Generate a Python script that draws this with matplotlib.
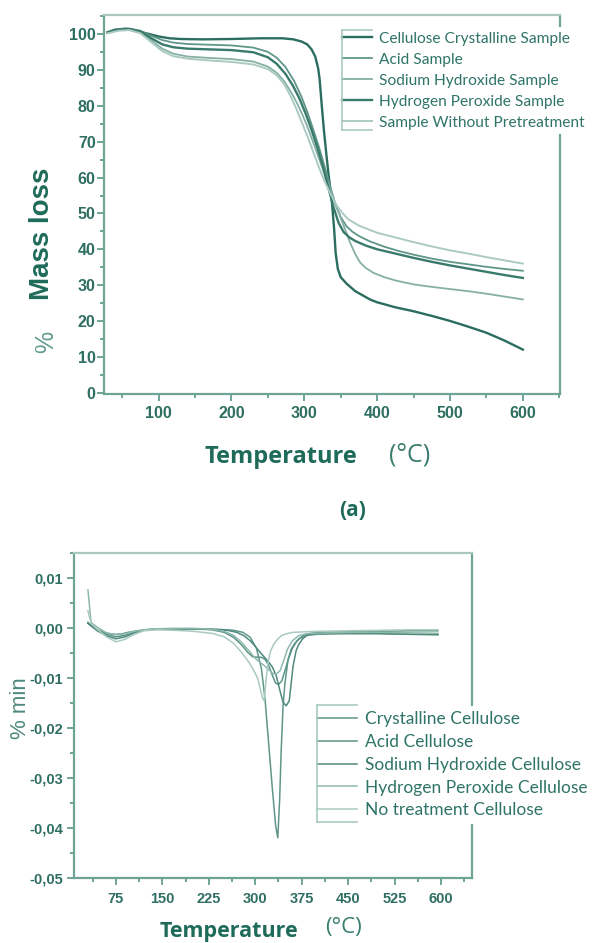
import matplotlib
matplotlib.use("Agg")
import matplotlib.pyplot as plt
from matplotlib.lines import Line2D
from matplotlib.ticker import MultipleLocator, FuncFormatter

W, H = 592, 943

# --- TGA (a): temperature (C) vs mass (%) ---
TGA_LABELS = ["Cellulose Crystalline Sample", "Acid Sample", "Sodium Hydroxide Sample",
              "Hydrogen Peroxide Sample", "Sample Without Pretreatment"]

tga_cryst_t = [30, 40, 55, 70, 85, 100, 115, 130, 160, 200, 240, 270, 285, 296, 304, 310, 315, 319,
               321, 324, 327, 330, 333, 338, 341, 343, 346, 350, 358, 370, 390, 400, 425, 450, 475,
               500, 525, 550, 575, 600]
tga_cryst_m = [100.6, 101.3, 101.6, 100.8, 100.2, 99.4, 98.9, 98.7, 98.6, 98.7, 98.9, 98.9, 98.6, 98.0,
               97.2, 95.8, 93.8, 90.5, 87.5, 80.0, 73.0, 67.0, 61.3, 52.9, 45.5, 39.0, 34.5, 32.2,
               30.4, 28.3, 26.0, 25.2, 23.8, 22.7, 21.4, 20.0, 18.4, 16.7, 14.5, 12.0]

tga_acid_t = [30, 45, 60, 75, 90, 105, 120, 140, 170, 200, 230, 250, 262, 274, 286, 296, 304, 312, 320,
              328, 336, 343, 350, 358, 366, 375, 390, 410, 430, 450, 475, 500, 525, 550, 575, 600]
tga_acid_m = [100.5, 101.4, 101.6, 101.0, 99.6, 98.4, 97.7, 97.3, 97.1, 96.9, 96.3, 95.1, 93.5, 90.9,
              87.0, 82.6, 78.4, 73.6, 68.6, 63.0, 57.2, 52.4, 49.0, 46.4, 44.9, 43.7, 42.2, 40.7, 39.5,
              38.5, 37.4, 36.5, 35.8, 35.1, 34.5, 34.0]

tga_naoh_t = [30, 45, 60, 75, 90, 105, 120, 140, 170, 200, 230, 250, 262, 272, 282, 290, 298, 306, 314,
              322, 330, 338, 346, 354, 362, 370, 377, 385, 395, 410, 425, 450, 475, 500, 525, 550, 575, 600]
tga_naoh_m = [100.4, 101.2, 101.4, 100.5, 98.3, 96.0, 94.6, 93.8, 93.4, 93.1, 92.4, 91.0, 89.3, 87.0,
              83.8, 80.8, 77.3, 73.3, 68.8, 64.3, 59.8, 55.3, 50.8, 46.6, 42.3, 38.6, 36.2, 34.7, 33.4,
              32.2, 31.3, 30.2, 29.5, 28.9, 28.3, 27.6, 26.8, 26.0]

tga_h2o2_t = [30, 45, 60, 75, 90, 105, 120, 140, 170, 200, 230, 250, 262, 274, 284, 293, 302, 310, 318,
              326, 333, 340, 347, 354, 362, 370, 385, 400, 425, 450, 475, 500, 525, 550, 575, 600]
tga_h2o2_m = [100.5, 101.3, 101.5, 100.8, 98.9, 97.2, 96.4, 96.0, 95.8, 95.6, 95.0, 93.6, 91.8, 89.0,
              85.8, 82.2, 77.8, 73.3, 68.3, 62.7, 57.2, 51.8, 47.4, 44.8, 43.3, 42.3, 41.0, 40.0, 38.8,
              37.6, 36.5, 35.5, 34.6, 33.7, 32.8, 32.0]

tga_untr_t = [30, 45, 60, 75, 90, 105, 120, 140, 170, 200, 230, 250, 262, 272, 280, 288, 296, 304, 312,
              320, 328, 336, 344, 352, 360, 375, 400, 425, 450, 475, 500, 525, 550, 575, 600]
tga_untr_m = [100.3, 101.0, 101.2, 100.3, 97.8, 95.3, 93.9, 93.2, 92.7, 92.3, 91.6, 90.3, 88.6, 86.2,
              83.2, 79.7, 75.7, 71.7, 67.3, 62.9, 58.9, 55.4, 52.4, 50.2, 48.4, 46.6, 44.6, 43.3, 42.0,
              40.8, 39.7, 38.8, 37.8, 36.9, 36.0]

# --- DTG (b): temperature (C) vs %/min ---
DTG_LABELS = ["Crystalline Cellulose", "Acid Cellulose", "Sodium Hydroxide Cellulose",
              "Hydrogen Peroxide Cellulose", "No treatment Cellulose"]

dtg_cryst_t = [30, 34, 38, 45, 55, 65, 75, 85, 95, 110, 130, 160, 200, 240, 265, 280, 292, 302, 310,
               316, 322, 328, 333, 336.5, 339.5, 342, 345, 348, 353, 358, 364, 372, 385, 400, 440, 500,
               550, 595]
dtg_cryst_d = [0.0012, 0.0006, 0.0003, -0.0003, -0.0008, -0.0011, -0.0012, -0.0011, -0.0008, -0.0005,
               -0.0002, -0.0001, -0.0001, -0.0002, -0.0004, -0.0008, -0.0018, -0.0040, -0.0080,
               -0.0143, -0.0235, -0.0325, -0.0395, -0.0419, -0.0342, -0.0243, -0.0156, -0.0110,
               -0.0063, -0.0042, -0.0030, -0.0020, -0.0014, -0.0012, -0.0011, -0.0011, -0.0012, -0.0012]

dtg_acid_t = [30, 35, 45, 60, 75, 90, 105, 120, 140, 170, 200, 230, 250, 265, 278, 288, 296, 304, 310,
              316, 322, 328, 333, 338, 343, 348, 354, 360, 368, 378, 390, 410, 450, 500, 550, 595]
dtg_acid_d = [0.0010, 0.0006, -0.0003, -0.0012, -0.0017, -0.0014, -0.0008, -0.0004, -0.0002, -0.0001,
              -0.0001, -0.0003, -0.0008, -0.0018, -0.0033, -0.0048, -0.0057, -0.0058, -0.0058, -0.0062,
              -0.0075, -0.0095, -0.0110, -0.0112, -0.0105, -0.0085, -0.0060, -0.0040, -0.0024, -0.0014,
              -0.0010, -0.0008, -0.0007, -0.0006, -0.0005, -0.0005]

dtg_naoh_t = [30, 35, 45, 60, 75, 90, 105, 120, 140, 170, 200, 230, 255, 270, 282, 292, 300, 308, 315,
              322, 328, 334, 340, 345, 350, 355, 361, 366, 370, 376, 383, 395, 420, 460, 500, 550, 595]
dtg_naoh_d = [0.0010, 0.0005, -0.0005, -0.0015, -0.0021, -0.0017, -0.0009, -0.0004, -0.0002, -0.0001,
              -0.0001, -0.0002, -0.0004, -0.0008, -0.0015, -0.0025, -0.0036, -0.0048, -0.0058, -0.0068,
              -0.0078, -0.0095, -0.0125, -0.0148, -0.0155, -0.0145, -0.0077, -0.0045, -0.0033, -0.0022,
              -0.0014, -0.0010, -0.0009, -0.0009, -0.0010, -0.0012, -0.0013]

dtg_h2o2_t = [30, 35, 45, 60, 75, 90, 105, 120, 140, 170, 200, 230, 250, 265, 278, 290, 300, 308, 315,
              322, 328, 334, 340, 346, 352, 360, 370, 382, 395, 420, 460, 500, 550, 595]
dtg_h2o2_d = [0.0077, 0.0012, 0.0002, -0.0009, -0.0013, -0.0011, -0.0006, -0.0003, -0.0001, 0.0, 0.0,
              -0.0002, -0.0006, -0.0014, -0.0028, -0.0045, -0.0060, -0.0068, -0.0075, -0.0083, -0.0090,
              -0.0092, -0.0085, -0.0065, -0.0042, -0.0025, -0.0015, -0.0011, -0.0010, -0.0009, -0.0008,
              -0.0008, -0.0009, -0.0010]

dtg_untr_t = [30, 35, 45, 60, 75, 90, 105, 120, 140, 170, 200, 230, 250, 265, 278, 290, 298, 304, 309,
              312, 314.5, 317, 321, 325, 330, 336, 342, 350, 362, 380, 400, 450, 500, 550, 595]
dtg_untr_d = [0.0035, 0.0010, -0.0002, -0.0017, -0.0027, -0.0022, -0.0012, -0.0005, -0.0003, -0.0004,
              -0.0006, -0.0010, -0.0017, -0.0030, -0.0048, -0.0068, -0.0085, -0.0100, -0.0125, -0.0140,
              -0.0145, -0.0110, -0.0065, -0.0045, -0.0032, -0.0022, -0.0015, -0.0011, -0.0008, -0.0007,
              -0.0006, -0.0005, -0.0004, -0.0003, -0.0003]

SPINE = "#6ea496"
TICKTXT = "#2f6f62"
TITLE = "#1f6b5a"
LEGTXT = "#2f7467"


def fx(px):
    return px / W


def fy(py):
    return 1 - py / H


def style_axes(ax, tick_size):
    for side in ["left", "bottom", "right", "top"]:
        ax.spines[side].set_color(SPINE)
        ax.spines[side].set_linewidth(1.6)
    ax.spines["top"].set_color("#a9c9c0")
    ax.tick_params(which="both", direction="out", color=SPINE, width=1.4,
                   labelcolor=TICKTXT, labelsize=tick_size, top=False, right=False)
    ax.tick_params(which="major", length=5)
    ax.tick_params(which="minor", length=3)
    for lab in ax.get_xticklabels() + ax.get_yticklabels():
        lab.set_fontweight("bold")
        lab.set_family("Liberation Sans")


def bracket(fig, x0, x1, y0, y1, color):
    fig.add_artist(Line2D([fx(x0), fx(x0)], [fy(y0), fy(y1)], color=color, lw=1.2))
    fig.add_artist(Line2D([fx(x0), fx(x1)], [fy(y0), fy(y0)], color=color, lw=1.2))
    fig.add_artist(Line2D([fx(x0), fx(x1)], [fy(y1), fy(y1)], color=color, lw=1.2))


fig = plt.figure(figsize=(W / 100, H / 100), dpi=100)

# ---------------- panel (a) ----------------
ax1 = fig.add_axes([fx(104), fy(394), fx(560) - fx(104), fy(15) - fy(394)])
tga = [
    (tga_cryst_t, tga_cryst_m, "#2b6d5f", 1.7),
    (tga_acid_t, tga_acid_m, "#5f9688", 1.3),
    (tga_naoh_t, tga_naoh_m, "#86b0a5", 1.3),
    (tga_h2o2_t, tga_h2o2_m, "#3a7a6b", 1.7),
    (tga_untr_t, tga_untr_m, "#abcbc2", 1.4),
]
for (t, m, c, lw), lab in zip(tga, TGA_LABELS):
    ax1.plot(t, m, color=c, lw=lw, label=lab)
ax1.set_xlim(25, 651)
ax1.set_ylim(-0.4, 105.4)
ax1.xaxis.set_major_locator(MultipleLocator(100))
ax1.xaxis.set_minor_locator(MultipleLocator(50))
ax1.yaxis.set_major_locator(MultipleLocator(10))
ax1.yaxis.set_minor_locator(MultipleLocator(5))
ax1.set_xticks([100, 200, 300, 400, 500, 600])
style_axes(ax1, 11.5)
ax1.tick_params(axis="x", pad=4)
ax1.tick_params(axis="y", pad=1)

leg1 = ax1.legend(loc="upper left", bbox_to_anchor=(fx(337), fy(27)), bbox_transform=fig.transFigure,
                  borderaxespad=0, borderpad=0.3, frameon=True, fancybox=False, framealpha=1,
                  edgecolor="none", facecolor="white", handlelength=1.95, handletextpad=0.45,
                  labelspacing=0.45, prop={"family": "Lato", "size": 11.2})
for txt in leg1.get_texts():
    txt.set_color(LEGTXT)
bracket(fig, 342, 372, 30, 130, "#a9c9c0")

fig.text(fx(42), fy(234), "Mass loss", rotation=90, ha="center", va="center", fontsize=20,
         fontweight="bold", color=TITLE, family="Liberation Sans")
fig.text(fx(46), fy(342), "%", rotation=90, ha="center", va="center", fontsize=18,
         color="#5f9a8c", family="Liberation Sans")
fig.text(fx(281), fy(457), "Temperature", ha="center", va="center", fontsize=17,
         fontweight="bold", color=TITLE, family="Open Sans")
fig.text(fx(410), fy(455), "(°C)", ha="center", va="center", fontsize=18,
         color="#3b7d6e", family="Open Sans")
fig.text(fx(353), fy(511), "(a)", ha="center", va="center", fontsize=15,
         fontweight="bold", color=TITLE, family="Open Sans")

# ---------------- panel (b) ----------------
ax2 = fig.add_axes([fx(74), fy(878.3), fx(472) - fx(74), fy(553.3) - fy(878.3)])
dtg = [
    (dtg_cryst_t, dtg_cryst_d, "#5f9689"),
    (dtg_acid_t, dtg_acid_d, "#5b9587"),
    (dtg_naoh_t, dtg_naoh_d, "#4f8a7c"),
    (dtg_h2o2_t, dtg_h2o2_d, "#8fb8ad"),
    (dtg_untr_t, dtg_untr_d, "#aacac1"),
]
for (t, d, c), lab in zip(dtg, DTG_LABELS):
    ax2.plot(t, d, color=c, lw=1.1, label=lab)
ax2.set_xlim(7.5, 650)
ax2.set_ylim(-0.05, 0.015)
ax2.set_xticks([75, 150, 225, 300, 375, 450, 525, 600])
ax2.xaxis.set_minor_locator(MultipleLocator(37.5))
ax2.set_yticks([-0.05, -0.04, -0.03, -0.02, -0.01, 0.0, 0.01])
ax2.yaxis.set_minor_locator(MultipleLocator(0.005))
ax2.yaxis.set_major_formatter(FuncFormatter(lambda v, p: f"{v:.2f}".replace(".", ",").replace("-0,00", "0,00")))
style_axes(ax2, 10.5)
ax2.tick_params(axis="x", pad=5)
ax2.tick_params(axis="y", pad=3)

leg2 = ax2.legend(loc="upper left", bbox_to_anchor=(fx(312), fy(706)), bbox_transform=fig.transFigure,
                  borderaxespad=0, borderpad=0.3, frameon=True, fancybox=False, framealpha=1,
                  edgecolor="none", facecolor="white", handlelength=2.3, handletextpad=0.44,
                  labelspacing=0.39, prop={"family": "Lato", "size": 12.5})
for txt in leg2.get_texts():
    txt.set_color(LEGTXT)
bracket(fig, 317, 357, 705, 822, "#a9c9c0")

fig.text(fx(21), fy(708), "% min", rotation=90, ha="center", va="center", fontsize=16,
         color="#4f8a7c", family="Liberation Sans")
fig.text(fx(229), fy(931), "Temperature", ha="center", va="center", fontsize=15.5,
         fontweight="bold", color=TITLE, family="Open Sans")
fig.text(fx(343), fy(928), "(°C)", ha="center", va="center", fontsize=16,
         color="#3b7d6e", family="Open Sans")

fig.savefig("out.png", dpi=100)
